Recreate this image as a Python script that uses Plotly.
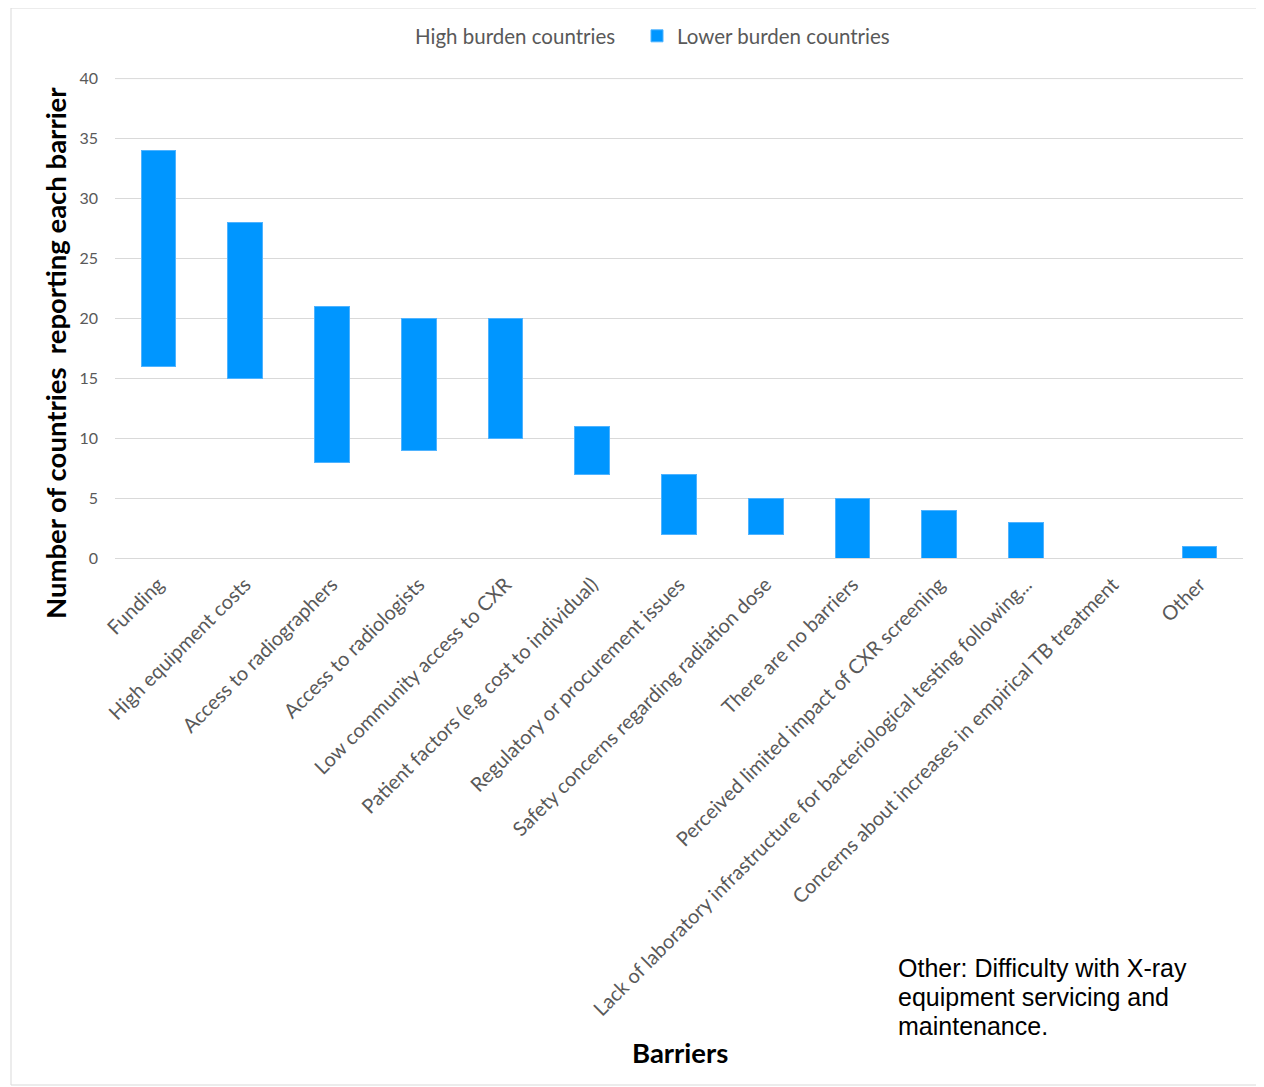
import plotly.graph_objects as go

categories = [
    "Funding",
    "High equipment costs",
    "Access to radiographers",
    "Access to radiologists",
    "Low community access to CXR",
    "Patient factors (e.g cost to individual)",
    "Regulatory or procurement issues",
    "Safety concerns regarding radiation dose",
    "There are no barriers",
    "Perceived limited impact of CXR screening",
    "Lack of laboratory infrastructure for bacteriological testing following...",
    "Concerns about increases in empirical TB treatment",
    "Other",
]
high_burden = [16, 15, 8, 9, 10, 7, 2, 2, 0, 0, 0, 0, 0]
lower_burden = [18, 13, 13, 11, 10, 4, 5, 3, 5, 4, 3, 0, 1]

y_ticks = [0, 5, 10, 15, 20, 25, 30, 35, 40]

note_lines = ["Other: Difficulty with X-ray", "equipment servicing and", "maintenance."]

BLUE = "#0096ff"
GRAY_TXT = "#595959"
GRID = "#d9d9d9"
FONT = "Lato, Open Sans, sans-serif"

# page has an 8px body margin; work in page pixels and convert
OFF = 8
W, H = 1264 - OFF, 1087 - OFF
PL, PR, PT, PB = 115, 1243, 78, 558   # plot area in page pixels
L = PL - OFF
T = PT - OFF
R = W - (PR - OFF)
B = H - (PB - OFF)
pw = PR - PL
ph = PB - PT

def px_x(p):
    return (p - PL) / pw

def px_y(p):
    return (PB - p) / ph

fig = go.Figure()
fig.add_trace(go.Bar(
    name="High burden countries", x=categories, y=high_burden,
    marker=dict(color="rgba(0,0,0,0)", line=dict(width=0)),
    hoverinfo="skip",
))
fig.add_trace(go.Bar(
    name="Lower burden countries", x=categories, y=lower_burden,
    marker=dict(color=BLUE, line=dict(color="#4fb3ff", width=1)),
))

annotations = [
    dict(
        text="<b>Number of countries  reporting each barrier</b>",
        xref="paper", yref="paper",
        x=px_x(55), y=px_y(353),
        textangle=-90, showarrow=False,
        font=dict(size=27.5, color="black", family=FONT),
        xanchor="center", yanchor="middle",
    ),
    dict(
        text="<b>Barriers</b>",
        xref="paper", yref="paper",
        x=px_x(680), y=px_y(1052),
        showarrow=False,
        font=dict(size=27.5, color="black", family=FONT),
        xanchor="center", yanchor="middle",
    ),
]
for i, line in enumerate(note_lines):
    annotations.append(dict(
        text=line,
        xref="paper", yref="paper",
        x=px_x(896), y=px_y(968 + 29 * i),
        showarrow=False, align="left",
        font=dict(size=25, color="black", family="Liberation Sans, Arial, sans-serif"),
        xanchor="left", yanchor="middle",
    ))

fig.update_layout(
    barmode="stack",
    bargap=0.6,
    width=W, height=H,
    margin=dict(l=L, r=R, t=T, b=B, autoexpand=False),
    paper_bgcolor="white",
    plot_bgcolor="white",
    font=dict(family=FONT, color=GRAY_TXT),
    showlegend=True,
    legend=dict(
        orientation="h",
        x=px_x(375), xanchor="left",
        y=px_y(36), yanchor="middle",
        font=dict(size=20.5, color=GRAY_TXT, family=FONT),
        traceorder="normal",
        itemwidth=30,
        entrywidth=217,
    ),
    xaxis=dict(
        tickangle=-45,
        tickfont=dict(size=20, color=GRAY_TXT, family=FONT),
        showline=False,
        showgrid=False,
        automargin=False,
        ticks="",
        ticklabelstandoff=10,
    ),
    yaxis=dict(
        range=[0, 40.05],
        tickvals=y_ticks,
        tickfont=dict(size=16, color=GRAY_TXT, family=FONT),
        showgrid=True, gridcolor=GRID, gridwidth=1,
        zeroline=True, zerolinecolor=GRID, zerolinewidth=1,
        showline=False,
        ticks="",
        ticklabelstandoff=16,
        automargin=False,
    ),
    annotations=annotations,
    shapes=[
        dict(
            type="rect", xref="paper", yref="paper",
            x0=px_x(11), x1=px_x(1262), y0=px_y(8), y1=px_y(1085),
            line=dict(color=GRID, width=1), fillcolor="rgba(0,0,0,0)",
            layer="below",
        ),
        dict(
            type="line", xref="paper", yref="y",
            x0=0, x1=1, y0=y_ticks[-1], y1=y_ticks[-1],
            line=dict(color=GRID, width=1),
            layer="below",
        ),
    ],
)

fig.write_html("out.html")
